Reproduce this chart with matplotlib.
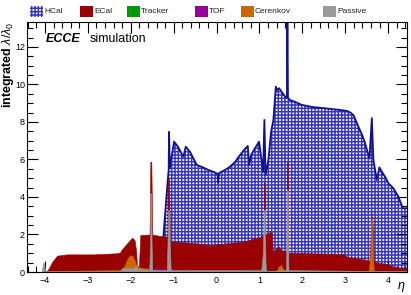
#!/usr/bin/env python3

import matplotlib.pyplot as plt
from matplotlib.patches import Rectangle
import numpy as np

plt.rcParams['font.family'] = ['Liberation Sans', 'DejaVu Sans']
plt.rcParams['mathtext.fontset'] = 'custom'
plt.rcParams['mathtext.rm'] = 'Liberation Sans'
plt.rcParams['mathtext.it'] = 'Liberation Sans:italic'
plt.rcParams['mathtext.bf'] = 'Liberation Sans:bold'
plt.rcParams['hatch.linewidth'] = 1.05

# cumulative material budget (integrated lambda/lambda0)
hcal_eta = [-1.241, -1.138, -1.117, -1.108, -1.089, -0.991, -0.898, -0.774, -0.718, -0.618,
            -0.462, -0.338, -0.191, -0.058, 0.023, 0.035, 0.058, 0.198, 0.315, 0.431,
            0.548, 0.641, 0.728, 0.758, 0.805, 0.898, 0.991, 1.085, 1.115, 1.143,
            1.208, 1.271, 1.325, 1.381, 1.411, 1.458, 1.598, 1.640, 1.651, 1.665,
            1.714, 1.831, 1.987, 2.227, 2.531, 2.880, 3.037, 3.114, 3.191, 3.307,
            3.394, 3.464, 3.564, 3.620, 3.657, 3.736, 3.797, 3.853, 3.930, 4.007,
            4.124, 4.240, 4.343, 4.450]
hcal_val = [1.87, 4.91, 5.44, 7.47, 5.55, 6.95, 6.67, 6.15, 6.68, 6.40,
            5.71, 5.60, 5.44, 5.33, 5.23, 4.75, 5.28, 5.44, 5.62, 5.87,
            6.24, 6.51, 6.72, 5.71, 6.24, 6.61, 6.95, 5.33, 8.11, 5.17,
            5.97, 7.48, 8.11, 9.88, 9.71, 9.80, 9.35, 9.31, 14.0, 9.28,
            9.17, 9.07, 8.91, 8.80, 8.73, 8.64, 8.59, 8.51, 8.37, 7.75,
            7.31, 6.86, 6.06, 8.20, 5.97, 4.91, 5.58, 5.35, 5.07, 4.73,
            4.46, 4.02, 3.40, 3.40]

ecal_eta = [-3.977, -3.907, -3.837, -3.720, -3.487, -2.864, -2.321, -2.251, -2.220, -2.087,
            -1.971, -1.913, -1.878, -1.854, -1.812, -1.777, -1.563, -1.544, -1.521, -1.500,
            -1.318, -1.145, -1.131, -1.108, -1.089, -1.008, -0.462, -0.152, 0.625, 1.015,
            1.096, 1.103, 1.127, 1.138, 1.259, 1.287, 1.313, 1.388, 1.441, 1.481,
            1.521, 1.633, 1.642, 1.663, 1.675, 2.181, 2.957, 3.037, 3.503, 3.576,
            3.608, 3.631, 3.662, 3.736, 3.890, 4.203, 4.450]
ecal_val = [0.0, 0.21, 0.53, 0.87, 0.94, 0.94, 1.00, 1.04, 1.17, 1.53,
            1.83, 1.71, 1.17, 0.32, 0.32, 1.97, 2.00, 5.88, 5.88, 2.00,
            1.92, 1.89, 5.01, 5.01, 1.71, 1.62, 1.53, 1.44, 1.62, 1.88,
            1.95, 4.76, 4.76, 2.03, 2.13, 2.15, 1.08, 1.23, 1.39, 1.23,
            1.17, 1.07, 5.88, 5.88, 1.03, 1.00, 0.96, 0.82, 0.64, 0.61,
            2.95, 2.95, 0.59, 0.50, 0.46, 0.25, 0.20]

tracker_eta = [-4.0, -3.5, -2.0, -1.0, 0.0, 1.0, 2.0, 3.5, 4.45]
tracker_val = [0.04, 0.06, 0.07, 0.07, 0.06, 0.07, 0.07, 0.06, 0.05]

tof_eta = [-4.0, -1.85, -1.8, -1.0, -0.95, 4.45]
tof_val = [0.05, 0.06, 0.2, 0.14, 0.06, 0.05]

cerenkov_eta = [-4.0, -2.25, -2.15, -2.08, -2.02, -1.96, -1.90, -1.85, -1.75, -1.60,
                -1.45, -1.30, 1.40, 1.45, 1.50, 1.55, 1.60, 3.55, 3.585, 3.605,
                3.625, 3.65, 3.67, 4.45]
cerenkov_val = [0.05, 0.10, 0.30, 0.70, 0.90, 0.85, 0.55, 0.30, 0.22, 0.18,
                0.10, 0.05, 0.05, 0.30, 0.37, 0.15, 0.05, 0.05, 1.00, 2.85,
                2.85, 0.50, 0.05, 0.05]

passive_eta = [-4.08, -4.045, -4.02, -4.0, -2.25, -2.2, -1.92, -1.90, -1.87, -1.85,
               -1.57, -1.55, -1.545, -1.525, -1.515, -1.50, -1.16, -1.14, -1.13, -1.11,
               -1.09, -1.07, 1.04, 1.08, 1.10, 1.125, 1.14, 1.16, 1.62, 1.635,
               1.66, 1.675, 4.45]
passive_val = [0.04, 0.48, 0.48, 0.04, 0.04, 0.20, 0.20, 0.32, 0.32, 0.15,
               0.10, 1.50, 4.20, 4.20, 1.50, 0.10, 0.10, 2.00, 3.30, 3.30,
               1.50, 0.10, 0.10, 1.00, 3.30, 3.30, 0.50, 0.05, 0.10, 4.36,
               4.36, 0.10, 0.04]

labels = ['HCal', 'ECal', 'Tracker', 'TOF', 'Cerenkov', 'Passive']
colors = ['#3434c0', '#990000', '#009900', '#990099', '#cc6600', '#999999']
hcal_hatch = '+++++'

fig = plt.figure(figsize=(4.11, 2.95), dpi=100)
ax = fig.add_axes([27 / 411, 23 / 295, 380 / 411, 250 / 295])

# HCal: hatched, with dark blue outline
ax.fill_between(hcal_eta, 0, hcal_val, facecolor='white', edgecolor=colors[0],
                hatch=hcal_hatch, linewidth=0, zorder=1)
ax.plot(hcal_eta, hcal_val, color='#101090', lw=1.3, zorder=2)

layers = [(ecal_eta, ecal_val), (tracker_eta, tracker_val), (tof_eta, tof_val),
          (cerenkov_eta, cerenkov_val), (passive_eta, passive_val)]
for i, (xe, ye) in enumerate(layers):
    ax.fill_between(xe, 0, ye, facecolor=colors[i + 1], edgecolor=colors[i + 1],
                    linewidth=0.4, zorder=3 + i)

ax.set_xlim(-4.42, 4.44)
ax.set_ylim(0, 13.33)
ax.set_xticks(np.arange(-4, 5, 1))
ax.set_xticks(np.arange(-4.4, 4.45, 0.2), minor=True)
ax.set_yticks(np.arange(0, 13, 2))
ax.set_yticks(np.arange(0, 13.3, 0.5), minor=True)
ax.set_xticklabels(['\u22124', '\u22123', '\u22122', '\u22121', '0', '1', '2', '3', '4'])
ax.tick_params(which='both', direction='in', top=True, right=True, labelsize=6.5,
               width=0.8, zorder=10)
ax.tick_params(axis='x', pad=3)
ax.tick_params(axis='y', pad=1.5)
ax.tick_params(which='major', length=8)
ax.tick_params(which='minor', length=4)
for s in ax.spines.values():
    s.set_linewidth(0.8)
    s.set_zorder(12)

fig.text(0.019, 0.925, r'integrated $\lambda/\lambda_0$', rotation=90, ha='center',
         va='top', fontsize=9, fontweight='bold')
fig.text(0.975, 0.004, r'$\eta$', ha='center', va='bottom', fontsize=9)

ax.text(0.05, 0.955, 'ECCE', transform=ax.transAxes, fontsize=9, fontweight='bold',
        fontstyle='italic', va='top', ha='left')
ax.text(0.165, 0.955, 'simulation', transform=ax.transAxes, fontsize=9,
        va='top', ha='left')

# legend row above the frame
box_x = [30, 80, 127, 195, 241, 323]
for i, lab in enumerate(labels):
    x0 = box_x[i] / 411
    r = Rectangle((x0, 1 - 17 / 295), 13 / 411, 11 / 295, transform=fig.transFigure,
                  facecolor=colors[i] if i else 'white', edgecolor=colors[i],
                  hatch=hcal_hatch if i == 0 else None, linewidth=0)
    fig.add_artist(r)
    fig.text(x0 + 14 / 411, 1 - 11.5 / 295, lab, fontsize=6, va='center', ha='left',
             color='#222222')

fig.savefig('out.png', dpi=100)
